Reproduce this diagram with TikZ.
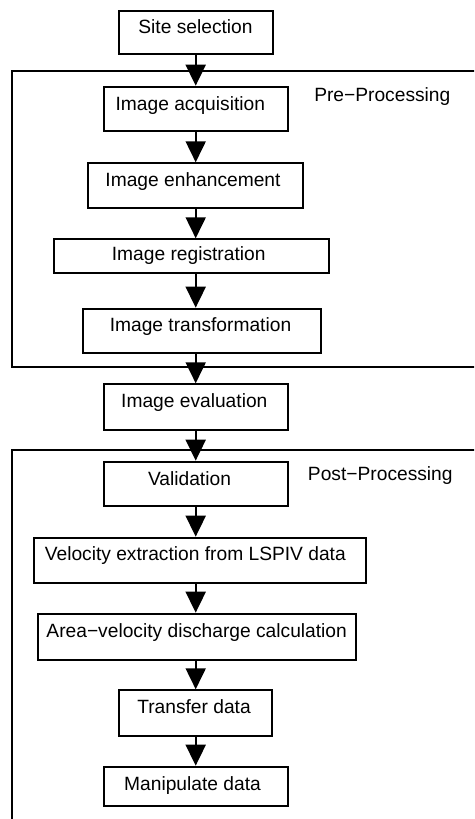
\documentclass[tikz,border=0pt]{standalone}
\usepackage{fontspec}
\setmainfont{Liberation Sans}
\usetikzlibrary{arrows.meta}
\begin{document}
\begin{tikzpicture}[x=1pt,y=-1pt,
  box/.style={draw, line width=1.9pt, inner sep=0pt},
  lbl/.style={anchor=base, inner sep=0pt, font=\fontsize{19.2}{23}\selectfont},
  frame/.style={line width=1.9pt},
  arr/.style={line width=1.9pt, -{Triangle[width=20pt,length=21pt]}}]
\useasboundingbox (0,0) rectangle (474,819);
\clip (0,0) rectangle (474,819);
% group frames
\draw[frame] (480,70.8) -- (12.1,70.8) -- (12.1,366.9) -- (480,366.9);
\draw[frame] (480,449.8) -- (12.1,449.8) -- (12.1,825);
% boxes
\node[box, minimum width=154.1pt, minimum height=43.1pt] (ss)    at (196,32.5) {};
\node[box, minimum width=184.4pt, minimum height=44.7pt] (acq)   at (195.85,109) {};
\node[box, minimum width=214.8pt, minimum height=44.8pt] (enh)   at (195.65,185.65) {};
\node[box, minimum width=275.1pt, minimum height=34.1pt] (reg)   at (191.8,256.3) {};
\node[box, minimum width=237.5pt, minimum height=44.7pt] (trans) at (202,331) {};
\node[box, minimum width=184.4pt, minimum height=45.5pt] (eval)  at (195.85,407) {};
\node[box, minimum width=184.4pt, minimum height=44.7pt] (valid) at (195.85,484) {};
\node[box, minimum width=331.8pt, minimum height=45.4pt] (vel)   at (200.15,560.35) {};
\node[box, minimum width=318.1pt, minimum height=46.1pt] (area)  at (196.7,636.7) {};
\node[box, minimum width=153.4pt, minimum height=45.5pt] (xfer)  at (195.65,713) {};
\node[box, minimum width=184.4pt, minimum height=39.1pt] (manip) at (195.85,786.2) {};
% texts
\node[lbl] (sst)    at (195.5,33.3)  {Site selection};
\node[lbl] (acqt)   at (190.3,110.7) {Image acquisition};
\node[lbl] (enht)   at (193,186.7)   {Image enhancement};
\node[lbl] (regt)   at (188.7,260.7) {Image registration};
\node[lbl] (transt) at (200.5,331)   {Image transformation};
\node[lbl] (evalt)  at (194.3,407.3) {Image evaluation};
\node[lbl] (validt) at (189.5,485)   {Validation};
\node[lbl] (velt)   at (195.3,560.7) {Velocity extraction from LSPIV data};
\node[lbl] (areat)  at (196.7,637.3) {Area−velocity discharge calculation};
\node[lbl] (xfert)  at (194,713.3)   {Transfer data};
\node[lbl] (manipt) at (192.5,790)   {Manipulate data};
\node[lbl] (pre)    at (382.3,101.7) {Pre−Processing};
\node[lbl] (post)   at (380.3,480)   {Post−Processing};
% connectors
\coordinate (ax) at (195.7,0);
\draw[arr] (ss.south -| ax)    -- (acq.north -| ax);
\draw[arr] (acq.south -| ax)   -- (enh.north -| ax);
\draw[arr] (enh.south -| ax)   -- (reg.north -| ax);
\draw[arr] (reg.south -| ax)   -- (trans.north -| ax);
\draw[arr] (trans.south -| ax) -- (eval.north -| ax);
\draw[arr] (eval.south -| ax)  -- (valid.north -| ax);
\draw[arr] (valid.south -| ax) -- (vel.north -| ax);
\draw[arr] (vel.south -| ax)   -- (area.north -| ax);
\draw[arr] (area.south -| ax)  -- (xfer.north -| ax);
\draw[arr] (xfer.south -| ax)  -- (manip.north -| ax);
\end{tikzpicture}
\end{document}
